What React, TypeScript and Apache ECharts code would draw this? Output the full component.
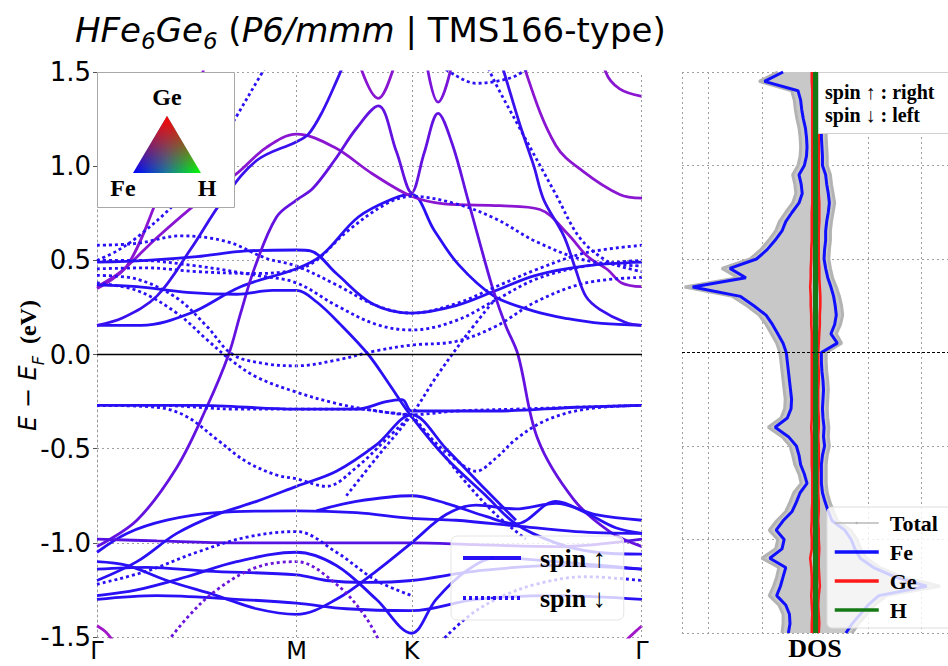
import React, { useEffect, useRef } from 'react';
import * as echarts from 'echarts';

// ---------- k-path ----------
const K_TICKS = [0, 1, 1.577, 2.732];
const K_LABELS = ['Γ', 'M', 'K', 'Γ'];

// ---------- spin-up bands ([k, E]) ----------
const UP_P1 = [[0, 0.35], [0.15, 0.47], [0.3, 0.82], [0.4, 1.1], [0.5, 1.4], [0.56, 1.6]];
const UP_MPEAK = [[0, 0.36], [0.12, 0.44], [0.3, 0.62], [0.52, 0.82], [0.7, 0.96], [0.85, 1.1], [1.0, 1.17], [1.19, 1.1], [1.38, 0.96], [1.577, 0.84], [1.74, 0.8], [2.02, 0.79], [2.22, 0.77], [2.36, 0.64], [2.46, 0.52], [2.56, 0.45], [2.63, 0.38], [2.732, 0.36]];
const UP_B1 = [[0, 0.155], [0.13, 0.195], [0.3, 0.31], [0.47, 0.56], [0.63, 0.82], [0.8, 1.03], [1.0, 1.13], [1.06, 1.17], [1.13, 1.29], [1.2, 1.45], [1.26, 1.6]];
const UP_B2 = [[0, 0.155], [0.22, 0.155], [0.47, 0.22], [0.72, 0.36], [1.0, 0.455], [1.13, 0.53], [1.31, 0.73], [1.49, 0.83], [1.577, 0.85], [1.69, 0.66], [1.81, 0.48], [1.99, 0.31], [2.19, 0.23], [2.36, 0.19], [2.53, 0.165], [2.732, 0.155]];
const UP_B3 = [[0, 0.49], [0.25, 0.5], [0.5, 0.52], [0.75, 0.55], [1.0, 0.555], [1.07, 0.55], [1.2, 0.43], [1.38, 0.27], [1.577, 0.22], [1.8, 0.26], [2.0, 0.34], [2.2, 0.42], [2.45, 0.47], [2.732, 0.49]];
const UP_A = [[0, -1.02], [0.2, -0.88], [0.4, -0.6], [0.55, -0.28], [0.66, 0], [0.72, 0.22], [0.79, 0.46], [0.9, 0.73], [1.0, 0.82], [1.08, 0.88], [1.19, 1.03], [1.3, 1.2], [1.41, 1.32], [1.5, 1.08], [1.577, 0.86], [1.64, 1.07], [1.71, 1.28], [1.78, 1.12], [1.86, 0.82], [1.93, 0.55], [1.99, 0.33], [2.05, 0.15], [2.11, 0], [2.21, -0.45], [2.39, -0.77], [2.57, -0.94], [2.732, -1.02]];
const UP_V1 = [[1.2, 1.95], [1.33, 1.5], [1.41, 1.36], [1.48, 1.5], [1.6, 1.95]];
const UP_V2 = [[1.6, 1.95], [1.66, 1.5], [1.71, 1.34], [1.77, 1.5], [1.85, 1.95]];
const UP_TOP_G = [[2.05, 1.9], [2.15, 1.5], [2.3, 1.11], [2.44, 0.97], [2.62, 0.85], [2.732, 0.83]];
const UP_TOP_G2 = [[2.45, 1.9], [2.55, 1.5], [2.62, 1.41], [2.732, 1.37]];
const UP_STEEP = [[1.98, 1.7], [2.04, 1.5], [2.12, 1.22], [2.19, 1.0], [2.24, 0.82], [2.34, 0.63], [2.4, 0.45], [2.45, 0.31], [2.52, 0.24], [2.65, 0.17], [2.732, 0.155]];
const UP_MID = [[0, 0.37], [0.2, 0.36], [0.45, 0.33], [0.7, 0.32], [0.88, 0.34], [1.0, 0.34], [1.1, 0.28], [1.22, 0.16], [1.36, 0], [1.46, -0.15], [1.577, -0.33], [1.75, -0.55], [1.95, -0.75], [2.1, -0.9], [2.3, -1.0], [2.5, -1.05], [2.732, -1.06]];
const UP_FLAT = [[0, -0.27], [0.5, -0.27], [1.0, -0.29], [1.3, -0.29], [1.45, -0.25], [1.53, -0.24], [1.577, -0.3], [1.7, -0.3], [2.0, -0.3], [2.4, -0.28], [2.732, -0.27]];
const UP_L1 = [[0, -1.05], [0.15, -0.95], [0.35, -0.88], [0.6, -0.84], [1.0, -0.83], [1.3, -0.84], [1.577, -0.87], [1.8, -0.88], [2.1, -0.91], [2.4, -0.94], [2.732, -0.95]];
const UP_L2 = [[0, -0.98], [0.3, -0.99], [0.7, -1.0], [1.0, -1.0], [1.3, -1.0], [1.577, -1.0], [1.9, -1.01], [2.3, -1.02], [2.732, -0.98]];
const UP_L3 = [[1.1, -0.83], [1.3, -0.78], [1.577, -0.75], [1.75, -0.79], [1.95, -0.86], [2.1, -0.9], [2.3, -0.78], [2.45, -0.84], [2.6, -0.92], [2.732, -0.95]];
const UP_L4 = [[0, -1.14], [0.25, -1.13], [0.55, -1.15], [1.0, -1.17], [1.15, -1.2], [1.35, -1.21], [1.577, -1.2], [1.9, -1.15], [2.3, -1.12], [2.732, -1.14]];
const UP_L5 = [[0, -1.3], [0.3, -1.28], [0.7, -1.3], [1.0, -1.32], [1.25, -1.35], [1.577, -1.36], [1.9, -1.3], [2.3, -1.28], [2.732, -1.3]];
const UP_L6 = [[0, -1.2], [0.2, -1.1], [0.4, -0.95], [0.6, -0.85], [0.8, -0.78], [1.0, -0.7], [1.2, -0.62], [1.4, -0.48], [1.577, -0.32], [1.75, -0.5], [1.95, -0.72], [2.1, -0.88]];
const UP_L8 = [[0, -1.28], [0.2, -1.25], [0.45, -1.18], [0.7, -1.1], [1.0, -1.05], [1.2, -1.12], [1.4, -1.3], [1.577, -1.48], [1.7, -1.3], [1.85, -1.15], [2.0, -1.08], [2.3, -1.1], [2.732, -1.14]];
const UP_L9 = [[0, -1.1], [0.15, -1.12], [0.35, -1.2], [0.6, -1.28], [0.8, -1.35], [1.0, -1.38], [1.2, -1.3], [1.4, -1.15], [1.577, -1.0], [1.75, -0.85], [1.9, -0.8], [2.1, -0.82], [2.3, -0.79], [2.5, -0.85], [2.732, -0.88]];
const UP_HOOK = [[0, -1.44], [0.04, -1.47], [0.08, -1.52]];
const UP_HOOK2 = [[2.65, -1.52], [2.7, -1.47], [2.732, -1.44]];

// ---------- spin-down bands ([k, E]) ----------
const DN_1 = [[0, 0.58], [0.2, 0.59], [0.42, 0.63], [0.65, 0.6], [0.85, 0.51], [1.0, 0.47], [1.2, 0.37], [1.4, 0.26], [1.577, 0.22], [1.8, 0.27], [2.0, 0.36], [2.2, 0.45], [2.45, 0.54], [2.732, 0.58]];
const DN_2 = [[0, 0.5], [0.2, 0.5], [0.5, 0.47], [0.8, 0.42], [1.0, 0.38], [1.2, 0.26], [1.4, 0.16], [1.577, 0.13], [1.8, 0.18], [2.0, 0.29], [2.2, 0.4], [2.45, 0.47], [2.732, 0.5]];
const DN_3 = [[0, 0.455], [0.25, 0.46], [0.5, 0.44], [0.8, 0.43], [1.0, 0.45], [1.1, 0.5], [1.25, 0.65], [1.45, 0.8], [1.577, 0.84], [1.8, 0.8], [2.0, 0.72], [2.2, 0.6], [2.45, 0.5], [2.732, 0.47]];
const DN_4 = [[0, 0.42], [0.2, 0.4], [0.4, 0.3], [0.55, 0.15], [0.68, 0.0], [0.85, -0.05], [1.0, -0.06], [1.2, -0.03], [1.4, 0.02], [1.577, 0.05], [1.8, 0.07], [2.0, 0.15], [2.2, 0.28], [2.45, 0.38], [2.732, 0.41]];
const DN_5 = [[0, 0.38], [0.2, 0.34], [0.4, 0.22], [0.55, 0.08], [0.66, -0.02], [0.8, -0.12], [1.0, -0.2], [1.2, -0.26], [1.4, -0.3], [1.577, -0.32]];
const DN_STEEP = [[0, 0.5], [0.1, 0.55], [0.21, 0.63], [0.39, 0.8], [0.55, 1.0], [0.68, 1.23], [0.83, 1.5], [0.9, 1.62]];
const DN_TOP = [[1.7, 1.55], [1.8, 1.48], [1.9, 1.44], [2.0, 1.45], [2.1, 1.48], [2.2, 1.55]];
const DN_STEEP2 = [[1.9, 1.7], [1.97, 1.5], [2.12, 1.2], [2.3, 0.85], [2.42, 0.62], [2.55, 0.5], [2.65, 0.46], [2.732, 0.44]];
const DN_FLAT = [[0, -0.27], [0.3, -0.27], [0.7, -0.29], [1.0, -0.29], [1.3, -0.29], [1.577, -0.32], [1.8, -0.3], [2.1, -0.29], [2.4, -0.28], [2.732, -0.27]];
const DN_6 = [[0, -0.27], [0.3, -0.28], [0.45, -0.33], [0.6, -0.45], [0.75, -0.57], [0.9, -0.64], [1.0, -0.66], [1.15, -0.7], [1.3, -0.6], [1.45, -0.45], [1.577, -0.32]];
const DN_X1 = [[1.577, -0.32], [1.7, -0.48], [1.85, -0.68], [2.0, -0.85], [2.15, -0.98]];
const DN_X2 = [[1.25, -0.75], [1.4, -0.55], [1.577, -0.32], [1.7, -0.12], [1.85, 0.1], [2.0, 0.3]];
const DN_X3 = [[1.577, -0.32], [1.68, -0.45], [1.8, -0.56], [1.9, -0.62], [2.0, -0.55], [2.1, -0.45], [2.25, -0.35], [2.45, -0.29], [2.732, -0.27]];
const DN_L1 = [[0, -1.22], [0.25, -1.15], [0.5, -1.05], [0.75, -0.97], [1.0, -0.94], [1.2, -1.05], [1.4, -1.2], [1.577, -1.28]];
const DN_L2 = [[0.3, -1.6], [0.45, -1.4], [0.6, -1.25], [0.8, -1.13], [1.0, -1.1], [1.2, -1.22], [1.35, -1.4], [1.45, -1.6]];
const DN_L3 = [[1.7, -1.55], [1.85, -1.4], [2.0, -1.3], [2.2, -1.22], [2.45, -1.18], [2.732, -1.2]];

const UP_BANDS = [
  { pts: UP_B2, color: '#2a10f4' }, { pts: UP_P1, color: '#8a16d2' }, { pts: UP_MPEAK, color: '#8a16d2' },
  { pts: UP_B1, color: '#3a10ee' }, { pts: UP_B3, color: '#2a10f4' }, { pts: UP_A, color: '#6412e0' },
  { pts: UP_V1, color: '#8a16d2' }, { pts: UP_V2, color: '#7a14d8' }, { pts: UP_TOP_G, color: '#8a16d2' },
  { pts: UP_TOP_G2, color: '#8a16d2' }, { pts: UP_STEEP, color: '#3a10ee' }, { pts: UP_MID, color: '#2a10f4' },
  { pts: UP_FLAT, color: '#2a10f4' }, { pts: UP_L1, color: '#2a10f4' }, { pts: UP_L2, color: '#5512e2' },
  { pts: UP_L3, color: '#2a10f4' }, { pts: UP_L4, color: '#2a10f4' }, { pts: UP_L5, color: '#2a10f4' },
  { pts: UP_L6, color: '#2a10f4' }, { pts: UP_L8, color: '#2a10f4' }, { pts: UP_L9, color: '#2a10f4' },
  { pts: UP_HOOK, color: '#a018c8' }, { pts: UP_HOOK2, color: '#a018c8' },
];
const DOWN_BANDS = [
  { pts: DN_1, color: '#2a10f4' }, { pts: DN_2, color: '#2a10f4' }, { pts: DN_3, color: '#2a10f4' },
  { pts: DN_4, color: '#2a10f4' }, { pts: DN_5, color: '#2a10f4' }, { pts: DN_STEEP, color: '#2a10f4' },
  { pts: DN_TOP, color: '#2a10f4' }, { pts: DN_STEEP2, color: '#2a10f4' }, { pts: DN_FLAT, color: '#2a10f4' },
  { pts: DN_6, color: '#2a10f4' }, { pts: DN_X1, color: '#2a10f4' }, { pts: DN_X2, color: '#2a10f4' },
  { pts: DN_X3, color: '#2a10f4' }, { pts: DN_L1, color: '#2a10f4' }, { pts: DN_L2, color: '#6a14dc' },
  { pts: DN_L3, color: '#2a10f4' },
];

// ---------- DOS (energy grid, bottom -> top) ----------
const DOS_E = ['-1.50', '-1.45', '-1.40', '-1.35', '-1.30', '-1.25', '-1.20', '-1.15', '-1.10', '-1.05',
  '-1.00', '-0.95', '-0.90', '-0.85', '-0.80', '-0.75', '-0.70', '-0.65', '-0.60', '-0.55',
  '-0.50', '-0.45', '-0.40', '-0.35', '-0.30', '-0.25', '-0.20', '-0.15', '-0.10', '-0.05',
  '0.00', '0.05', '0.10', '0.15', '0.20', '0.25', '0.30', '0.35', '0.40', '0.45',
  '0.50', '0.55', '0.60', '0.65', '0.70', '0.75', '0.80', '0.85', '0.90', '0.95',
  '1.00', '1.05', '1.10', '1.15', '1.20', '1.25', '1.30', '1.35', '1.40', '1.45', '1.50'];
const TOTAL_UP = [0.7, 0.82, 0.98, 1.12, 1.35, 2.35, 1.65, 1.22, 0.97, 0.86,
  0.79, 0.67, 0.42, 0.35, 0.28, 0.23, 0.21, 0.21, 0.21, 0.23,
  0.27, 0.25, 0.26, 0.24, 0.23, 0.24, 0.25, 0.24, 0.22, 0.21,
  0.21, 0.5, 0.4, 0.48, 0.52, 0.5, 0.46, 0.4, 0.33, 0.29,
  0.26, 0.27, 0.29, 0.29, 0.31, 0.34, 0.37, 0.34, 0.31, 0.29,
  0.23, 0.23, 0.22, 0.21, 0.21, 0.22, 0.22, 0.23, 0.23, 0.24, 0.24];
const TOTAL_DOWN = [-0.62, -0.6, -0.6, -0.68, -0.86, -0.78, -0.72, -0.68, -1.0, -0.74,
  -0.7, -0.86, -0.72, -0.55, -0.47, -0.4, -0.26, -0.3, -0.38, -0.42,
  -0.47, -0.62, -0.88, -0.64, -0.57, -0.56, -0.58, -0.6, -0.62, -0.64,
  -0.66, -0.72, -0.82, -0.92, -1.05, -1.28, -1.55, -2.45, -1.45, -1.75,
  -1.22, -1.02, -0.87, -0.74, -0.67, -0.55, -0.42, -0.36, -0.38, -0.42,
  -0.32, -0.28, -0.27, -0.28, -0.3, -0.34, -0.37, -0.39, -0.44, -1.05, -0.7];
const FE_UP = [0.58, 0.7, 0.85, 1.0, 1.2, 2.1, 1.5, 1.1, 0.85, 0.75,
  0.68, 0.56, 0.32, 0.25, 0.19, 0.14, 0.12, 0.12, 0.12, 0.14,
  0.18, 0.16, 0.17, 0.15, 0.14, 0.15, 0.16, 0.15, 0.13, 0.12,
  0.12, 0.42, 0.3, 0.37, 0.4, 0.38, 0.35, 0.3, 0.24, 0.2,
  0.17, 0.18, 0.2, 0.2, 0.22, 0.25, 0.27, 0.25, 0.22, 0.2,
  0.14, 0.14, 0.13, 0.12, 0.12, 0.13, 0.13, 0.14, 0.14, 0.15, 0.15];
const FE_DOWN = [-0.5, -0.47, -0.48, -0.55, -0.72, -0.65, -0.6, -0.55, -0.85, -0.62,
  -0.58, -0.73, -0.6, -0.43, -0.35, -0.28, -0.15, -0.2, -0.27, -0.3,
  -0.35, -0.5, -0.75, -0.52, -0.45, -0.44, -0.46, -0.48, -0.5, -0.52,
  -0.54, -0.6, -0.7, -0.8, -0.92, -1.15, -1.4, -2.3, -1.3, -1.6,
  -1.1, -0.9, -0.75, -0.62, -0.55, -0.43, -0.3, -0.24, -0.26, -0.3,
  -0.2, -0.16, -0.15, -0.16, -0.18, -0.22, -0.25, -0.27, -0.32, -0.95, -0.6];
const GE_UP = [0.07, 0.08, 0.07, 0.06, 0.07, 0.09, 0.08, 0.07, 0.07, 0.08,
  0.07, 0.07, 0.06, 0.07, 0.07, 0.06, 0.06, 0.06, 0.07, 0.07,
  0.07, 0.06, 0.07, 0.07, 0.06, 0.06, 0.06, 0.07, 0.07, 0.06,
  0.06, 0.07, 0.08, 0.09, 0.09, 0.1, 0.1, 0.09, 0.08, 0.08,
  0.07, 0.07, 0.07, 0.07, 0.08, 0.08, 0.08, 0.07, 0.07, 0.07,
  0.07, 0.07, 0.07, 0.07, 0.07, 0.07, 0.07, 0.07, 0.07, 0.07, 0.07];
const GE_DOWN = [-0.06, -0.06, -0.05, -0.06, -0.07, -0.06, -0.06, -0.07, -0.09, -0.06,
  -0.06, -0.07, -0.06, -0.06, -0.05, -0.05, -0.05, -0.05, -0.06, -0.06,
  -0.06, -0.06, -0.07, -0.06, -0.06, -0.06, -0.06, -0.06, -0.06, -0.06,
  -0.06, -0.06, -0.06, -0.07, -0.07, -0.08, -0.08, -0.09, -0.08, -0.08,
  -0.07, -0.07, -0.06, -0.06, -0.06, -0.06, -0.05, -0.05, -0.05, -0.05,
  -0.05, -0.05, -0.05, -0.05, -0.05, -0.05, -0.05, -0.05, -0.05, -0.06, -0.06];
const H_UP = [0.03, 0.03, 0.03, 0.03, 0.03, 0.03, 0.03, 0.03, 0.03, 0.03,
  0.03, 0.03, 0.03, 0.03, 0.03, 0.03, 0.03, 0.03, 0.03, 0.03,
  0.03, 0.03, 0.03, 0.03, 0.03, 0.03, 0.03, 0.03, 0.03, 0.03,
  0.03, 0.03, 0.03, 0.03, 0.03, 0.03, 0.03, 0.03, 0.03, 0.03,
  0.03, 0.03, 0.03, 0.03, 0.03, 0.03, 0.03, 0.03, 0.03, 0.03,
  0.03, 0.03, 0.03, 0.03, 0.03, 0.03, 0.03, 0.03, 0.03, 0.03, 0.03];
const H_DOWN = [-0.01, -0.01, -0.01, -0.01, -0.01, -0.01, -0.01, -0.01, -0.01, -0.01,
  -0.01, -0.01, -0.01, -0.01, -0.01, -0.01, -0.01, -0.01, -0.01, -0.01,
  -0.01, -0.01, -0.01, -0.01, -0.01, -0.01, -0.01, -0.01, -0.01, -0.01,
  -0.01, -0.01, -0.01, -0.01, -0.01, -0.01, -0.01, -0.01, -0.01, -0.01,
  -0.01, -0.01, -0.01, -0.01, -0.01, -0.01, -0.01, -0.01, -0.01, -0.01,
  -0.01, -0.01, -0.01, -0.01, -0.01, -0.01, -0.01, -0.01, -0.01, -0.01, -0.01];

const SANS = 'DejaVu Sans';
const SERIF = 'Liberation Serif';

function buildOption(): any {
  const series: any[] = [];
  const bandSeries = (b: any, up: boolean) => ({
    type: 'line',
    name: up ? 'spin ↑' : 'spin ↓',
    xAxisIndex: 0,
    yAxisIndex: 0,
    data: b.pts,
    color: '#1a0cff',
    showSymbol: false,
    symbol: 'none',
    smooth: 0.35,
    clip: true,
    silent: true,
    z: up ? 2 : 3,
    lineStyle: { color: b.color, width: 2.8, type: up ? 'solid' : [3, 3], cap: 'butt' },
  });
  UP_BANDS.forEach((b) => series.push(bandSeries(b, true)));
  DOWN_BANDS.forEach((b) => series.push(bandSeries(b, false)));

  series.push({
    type: 'line', xAxisIndex: 0, yAxisIndex: 0, data: [], silent: true,
    markLine: {
      silent: true, symbol: ['none', 'none'], label: { show: false }, animation: false,
      data: [
        { xAxis: K_TICKS[1], lineStyle: { color: '#9a9a9a', type: [2, 3], width: 1 } },
        { xAxis: K_TICKS[2], lineStyle: { color: '#9a9a9a', type: [2, 3], width: 1 } },
        { xAxis: K_TICKS[3], lineStyle: { color: '#9a9a9a', type: [2, 3], width: 1 } },
        { yAxis: 0, lineStyle: { color: '#000', type: 'solid', width: 1.3 } },
      ],
    },
  });

  const dosLine = (name: string, data: number[], color: string, width: number, area?: boolean, z = 2) => ({
    type: 'line', name, xAxisIndex: 1, yAxisIndex: 1, data, color,
    showSymbol: false, symbol: 'none', silent: true, z,
    lineStyle: { color, width },
    areaStyle: area ? { color: '#c8c8c8', opacity: 1 } : undefined,
  });
  series.push(dosLine('Total', TOTAL_UP, '#b3b3b3', 3, true, 1));
  series.push(dosLine('Total', TOTAL_DOWN, '#b3b3b3', 3, true, 1));
  series.push(dosLine('Fe', FE_UP, '#1010ff', 3));
  series.push(dosLine('Fe', FE_DOWN, '#1010ff', 3));
  series.push(dosLine('Ge', GE_UP, '#ff1a1a', 2.6, false, 3));
  series.push(dosLine('Ge', GE_DOWN, '#ff1a1a', 2.6, false, 3));
  series.push(dosLine('H', H_UP, '#157a15', 3, false, 4));
  series.push(dosLine('H', H_DOWN, '#157a15', 3, false, 4));
  series.push({
    type: 'line', xAxisIndex: 1, yAxisIndex: 1, data: [], silent: true,
    markLine: {
      silent: true, symbol: ['none', 'none'], label: { show: false }, animation: false,
      data: [{ yAxis: '0.00', lineStyle: { color: '#000', type: [3, 2], width: 1.2 } }],
    },
  });

  const gridLine = { show: true, lineStyle: { color: '#a0a0a0', type: [2, 3], width: 1 } };

  return {
    animation: false,
    backgroundColor: '#fff',
    title: {
      text: '{i|HFe}{s|6}{i|Ge}{s|6}{n| (}{i|P6/mmm}{n| | TMS166-type)}',
      left: 70,
      top: 8,
      textStyle: {
        fontWeight: 'normal',
        rich: {
          i: { fontFamily: SANS, fontStyle: 'italic', fontWeight: 'normal', fontSize: 34, color: '#000', lineHeight: 39, verticalAlign: 'top' },
          n: { fontFamily: SANS, fontWeight: 'normal', fontSize: 34, color: '#000', lineHeight: 39, verticalAlign: 'top' },
          s: { fontFamily: SANS, fontStyle: 'italic', fontWeight: 'normal', fontSize: 23, color: '#000', verticalAlign: 'bottom' },
        },
      },
    },
    grid: [
      { left: 97, top: 72, width: 545, height: 565 },
      { left: 682, top: 72, width: 270, height: 565 },
    ],
    xAxis: [
      {
        type: 'value', gridIndex: 0, min: 0, max: 2.732,
        axisLine: { show: false },
        axisTick: { show: false },
        splitLine: { show: false },
        axisLabel: {
          customValues: K_TICKS,
          formatter: (v: number) => {
            let best = 0;
            K_TICKS.forEach((t, i) => { if (Math.abs(t - v) < Math.abs(K_TICKS[best] - v)) best = i; });
            return K_LABELS[best];
          },
          fontFamily: SANS, fontSize: 24, color: '#000', margin: 2, lineHeight: 24,
        },
      },
      {
        type: 'value', gridIndex: 1, min: -2.5, max: 2.5, splitNumber: 5,
        axisLine: { show: false }, axisTick: { show: false }, axisLabel: { show: false },
        splitLine: gridLine,
        name: 'DOS', nameLocation: 'middle', nameGap: 3,
        nameTextStyle: { fontFamily: SERIF, fontWeight: 'bold', fontSize: 26, color: '#000', verticalAlign: 'top', lineHeight: 24 },
      },
    ],
    yAxis: [
      {
        type: 'value', gridIndex: 0, min: -1.5, max: 1.5, interval: 0.5,
        axisLine: { show: true, lineStyle: { color: '#9a9a9a', type: [2, 3], width: 1 } },
        axisTick: { show: true, length: 4, lineStyle: { color: '#555' } },
        splitLine: gridLine,
        axisLabel: { formatter: (v: number) => v.toFixed(1), fontFamily: SANS, fontSize: 26, color: '#000', margin: 6 },
        name: '{e|E − E}{f|F}{u|  (eV)}',
        nameLocation: 'middle', nameGap: 51, nameRotate: 90,
        nameMoveOverlap: false,
        nameTextStyle: {
          padding: [0, 22, 0, 0],
          rich: {
            e: { fontFamily: SANS, fontStyle: 'italic', fontSize: 24, color: '#000', lineHeight: 30, verticalAlign: 'top' },
            f: { fontFamily: SANS, fontStyle: 'italic', fontSize: 16, color: '#000', verticalAlign: 'bottom' },
            u: { fontFamily: SERIF, fontWeight: 'bold', fontSize: 24, color: '#000', lineHeight: 30, verticalAlign: 'top' },
          },
        },
      },
      {
        type: 'category', gridIndex: 1, data: DOS_E, boundaryGap: false,
        axisLine: { show: true, lineStyle: { color: '#9a9a9a', type: [2, 3], width: 1 } },
        axisTick: { show: false }, axisLabel: { show: false },
        splitLine: { show: true, interval: (i: number) => i % 10 === 0, lineStyle: { color: '#a0a0a0', type: [2, 3], width: 1 } },
      },
    ],
    legend: [
      {
        data: ['spin ↑', 'spin ↓'],
        orient: 'vertical', left: 451, top: 536,
        itemWidth: 58, itemHeight: 3, itemGap: 14,
        padding: [9, 18, 9, 10],
        lineStyle: { width: 4 },
        backgroundColor: 'rgba(255,255,255,0.78)', borderColor: '#e4e4e4', borderWidth: 1, borderRadius: 6,
        textStyle: { fontFamily: SERIF, fontWeight: 'bold', fontSize: 26, color: '#000', padding: [0, 0, 0, 14] },
        selectedMode: false,
      },
      {
        data: [
          { name: 'Total', lineStyle: { color: '#b8b8b8', width: 1.5 } },
          { name: 'Fe' }, { name: 'Ge' }, { name: 'H' },
        ],
        orient: 'vertical', left: 827, top: 507,
        itemWidth: 44, itemHeight: 3, itemGap: 7,
        padding: [5, 60, 7, 6],
        lineStyle: { width: 3.5 },
        backgroundColor: 'rgba(255,255,255,0.8)', borderColor: '#dddddd', borderWidth: 1, borderRadius: 5,
        textStyle: { fontFamily: SERIF, fontWeight: 'bold', fontSize: 22, color: '#000', padding: [0, 0, 0, 6] },
        selectedMode: false,
      },
    ],
    graphic: [
      { type: 'rect', z: 100, shape: { x: 97.5, y: 72.5, width: 137, height: 135 }, style: { fill: '#fff', stroke: '#a8a8a8', lineWidth: 1 } },
      {
        type: 'polygon', z: 101, shape: { points: [[167, 116], [133, 173], [201, 173]] },
        style: { fill: { type: 'linear', x: 0, y: 0, x2: 1, y2: 0, colorStops: [{ offset: 0, color: '#0000ff' }, { offset: 0.5, color: '#1a7a9a' }, { offset: 1, color: '#00ff00' }] } },
      },
      {
        type: 'polygon', z: 102, shape: { points: [[167, 116], [133, 173], [201, 173]] },
        style: { fill: { type: 'linear', x: 0, y: 0, x2: 0, y2: 1, colorStops: [{ offset: 0, color: 'rgba(255,0,0,1)' }, { offset: 0.55, color: 'rgba(255,0,0,0.45)' }, { offset: 1, color: 'rgba(255,0,0,0)' }] } },
      },
      { type: 'text', z: 103, x: 167, y: 97, style: { text: 'Ge', font: 'bold 24px "Liberation Serif"', fill: '#000', textAlign: 'center', textVerticalAlign: 'middle' } },
      { type: 'text', z: 103, x: 123, y: 188, style: { text: 'Fe', font: 'bold 24px "Liberation Serif"', fill: '#000', textAlign: 'center', textVerticalAlign: 'middle' } },
      { type: 'text', z: 103, x: 207, y: 188, style: { text: 'H', font: 'bold 24px "Liberation Serif"', fill: '#000', textAlign: 'center', textVerticalAlign: 'middle' } },
      { type: 'rect', z: 100, shape: { x: 818.5, y: 72.5, width: 140, height: 61 }, style: { fill: '#fff', stroke: '#d0d0d0', lineWidth: 1 } },
      { type: 'text', z: 103, x: 825, y: 92, style: { text: 'spin ↑ : right', font: 'bold 20px "Liberation Serif"', fill: '#000', textAlign: 'left', textVerticalAlign: 'middle' } },
      { type: 'text', z: 103, x: 825, y: 115, style: { text: 'spin ↓ : left', font: 'bold 20px "Liberation Serif"', fill: '#000', textAlign: 'left', textVerticalAlign: 'middle' } },
    ],
    series,
  };
}

export default function App() {
  const ref = useRef<HTMLDivElement>(null);
  useEffect(() => {
    if (!ref.current) return;
    const chart = echarts.init(ref.current, undefined, { renderer: 'svg' });
    chart.setOption(buildOption());
    return () => chart.dispose();
  }, []);
  return <div ref={ref} style={{ width: 948, height: 666, position: 'absolute', left: 0, top: 0 }} />;
}
